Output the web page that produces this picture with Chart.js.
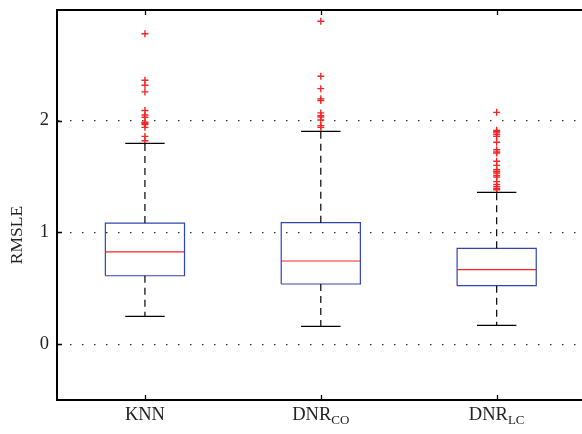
<!DOCTYPE html>
<html>
<head>
<meta charset="utf-8">
<script src="https://cdn.jsdelivr.net/npm/chart.js@4.4.1/dist/chart.umd.min.js"></script>
<style>
  html, body { margin: 0; padding: 0; background: #fff; overflow: hidden; }
  #wrap { width: 590px; height: 434px; }
</style>
</head>
<body>
<div id="wrap"><canvas id="chart" width="590" height="434"></canvas></div>
<script>
// ── data ─────────────────────────────────────
const groupNames   = ['KNN', 'DNR', 'DNR'];
const groupSubs    = ['', 'CO', 'LC'];
const positions    = [1, 2, 3];
const lowerWhisker = [0.248, 0.158, 0.167];
const q1           = [0.612, 0.538, 0.523];
const medians      = [0.826, 0.744, 0.666];
const q3           = [1.083, 1.087, 0.857];
const upperWhisker = [1.797, 1.904, 1.358];
const outliersKNN  = [2.778, 2.361, 2.316, 2.257, 2.09, 2.05, 2.03, 1.985, 1.975, 1.964, 1.94, 1.859, 1.82];
const outliersCO   = [2.889, 2.397, 2.286, 2.195, 2.18, 2.069, 2.045, 2.033, 2.006, 1.955, 1.94];
const outliersLC   = [2.074, 1.913, 1.9, 1.89, 1.875, 1.859, 1.806, 1.74, 1.72, 1.711, 1.636, 1.6, 1.56,
                      1.545, 1.532, 1.51, 1.496, 1.454, 1.43, 1.412, 1.395, 1.382];
const yTicks       = [0, 1, 2];

const outliers  = [outliersKNN, outliersCO, outliersLC];
const BOX_HALF  = 0.225;
const CAP_HALF  = 0.112;
const BLUE  = '#2f45b2';
const RED   = '#f02828';
const FONT  = '"Liberation Serif", "DejaVu Serif", serif';

// ── datasets ─────────────────────────────────
const line = (data, color, dash) => ({
  data, showLine: true, borderColor: color, borderWidth: 1.2, borderDash: dash || [],
  pointRadius: 0, fill: false, tension: 0
});

const datasets = [];
positions.forEach((p, i) => {
  const l = p - BOX_HALF, r = p + BOX_HALF;
  datasets.push(line([{x:p, y:q3[i]}, {x:p, y:upperWhisker[i]}], '#000', [7, 5]));
  datasets.push(line([{x:p, y:q1[i]}, {x:p, y:lowerWhisker[i]}], '#000', [7, 5]));
  datasets.push(line([{x:p-CAP_HALF, y:upperWhisker[i]}, {x:p+CAP_HALF, y:upperWhisker[i]}], '#000'));
  datasets.push(line([{x:p-CAP_HALF, y:lowerWhisker[i]}, {x:p+CAP_HALF, y:lowerWhisker[i]}], '#000'));
  datasets.push(line([{x:l, y:q1[i]}, {x:r, y:q1[i]}, {x:r, y:q3[i]}, {x:l, y:q3[i]}, {x:l, y:q1[i]}], BLUE));
  datasets.push(line([{x:l, y:medians[i]}, {x:r, y:medians[i]}], RED));
  datasets.push({
    data: outliers[i].map(v => ({x: p, y: v})),
    showLine: false, pointStyle: 'cross', pointRadius: 3.5, borderWidth: 1.4,
    borderColor: RED, backgroundColor: RED
  });
});

// ── frame, inward ticks, labels ──────────────
const frame = {
  id: 'frame',
  afterDraw(chart) {
    const { ctx, chartArea: a, scales: { x, y } } = chart;
    ctx.save();
    ctx.strokeStyle = '#000';
    ctx.lineWidth = 2;
    ctx.beginPath();
    ctx.moveTo(a.left - 1, a.top); ctx.lineTo(a.right, a.top);
    ctx.stroke();

    ctx.lineWidth = 1.3;
    ctx.beginPath();
    yTicks.forEach(v => {
      const py = Math.round(y.getPixelForValue(v)) + 0.5;
      ctx.moveTo(a.left, py); ctx.lineTo(a.left + 5, py);
    });
    positions.forEach(p => {
      const px = Math.round(x.getPixelForValue(p)) + 0.5;
      ctx.moveTo(px, a.top); ctx.lineTo(px, a.top + 5);
      ctx.moveTo(px, a.bottom); ctx.lineTo(px, a.bottom - 5);
    });
    ctx.stroke();

    ctx.fillStyle = '#222';
    ctx.textAlign = 'left';
    ctx.textBaseline = 'alphabetic';
    groupNames.forEach((t, i) => {
      ctx.font = '18.5px ' + FONT;
      const w1 = ctx.measureText(t).width;
      ctx.font = '13px ' + FONT;
      const w2 = groupSubs[i] ? ctx.measureText(groupSubs[i]).width : 0;
      const sx = x.getPixelForValue(positions[i]) - (w1 + w2) / 2;
      ctx.font = '18.5px ' + FONT;
      ctx.fillText(t, sx, 420);
      if (groupSubs[i]) {
        ctx.font = '13px ' + FONT;
        ctx.fillText(groupSubs[i], sx + w1, 424);
      }
    });

    ctx.translate(17, 235);
    ctx.rotate(-Math.PI / 2);
    ctx.textAlign = 'center';
    ctx.textBaseline = 'middle';
    ctx.font = '17.5px ' + FONT;
    ctx.fillText('RMSLE', 0, 0);
    ctx.restore();
  }
};

new Chart(document.getElementById('chart').getContext('2d'), {
  type: 'scatter',
  data: { datasets },
  options: {
    responsive: false,
    animation: false,
    layout: { padding: { top: 10, right: 3, left: 0, bottom: 0 } },
    plugins: { legend: { display: false }, tooltip: { enabled: false } },
    scales: {
      x: {
        type: 'linear', min: 0.5, max: 3.5,
        afterFit: s => { s.height = 34; s.paddingLeft = 0; s.paddingRight = 0; },
        ticks: { display: false },
        grid: { display: false, drawTicks: false },
        border: { display: true, color: '#000', width: 2 }
      },
      y: {
        type: 'linear', min: -0.5, max: 2.99,
        afterFit: s => { s.width = 57; s.paddingTop = 0; s.paddingBottom = 0; },
        afterBuildTicks: s => { s.ticks = yTicks.map(v => ({ value: v })); },
        ticks: { color: '#222', padding: 8, font: { family: FONT, size: 18.5 } },
        grid: { display: true, drawTicks: false, color: '#333', lineWidth: 1.2 },
        border: { display: true, color: '#000', width: 2, dash: [1.5, 10.5] }
      }
    }
  },
  plugins: [frame]
});
</script>
</body>
</html>
